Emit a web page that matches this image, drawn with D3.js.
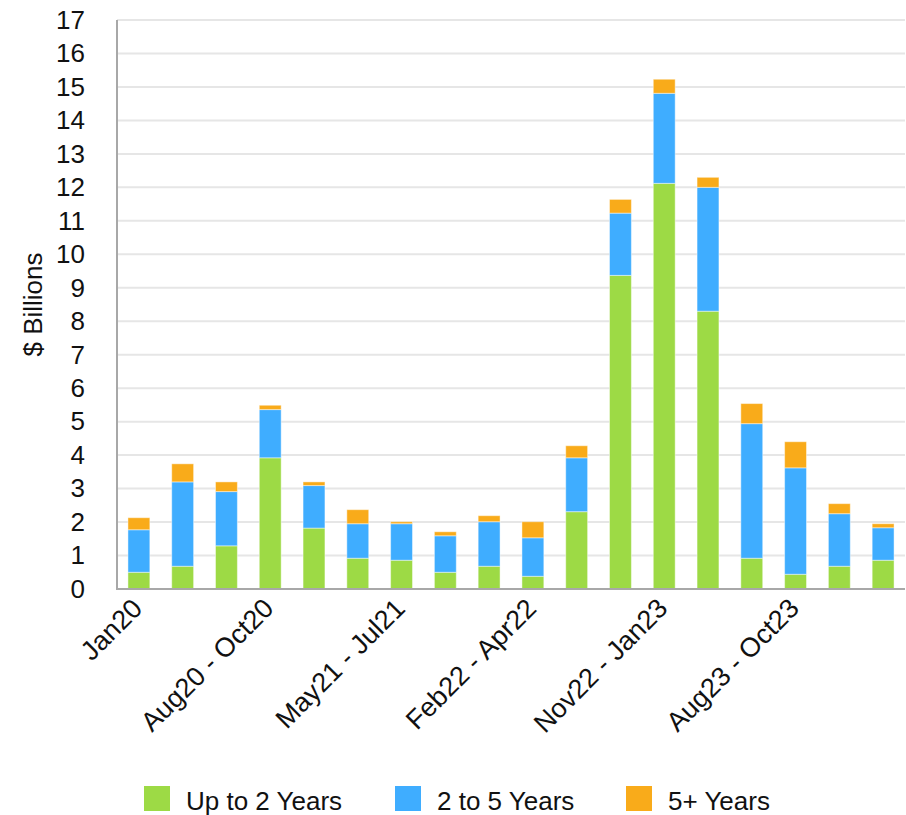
<!DOCTYPE html>
<html><head><meta charset="utf-8">
<script src="https://cdn.jsdelivr.net/npm/d3@7"></script>
<style>body{margin:0;background:#fff;} svg{display:block;font-family:"Liberation Sans",Arial,sans-serif;}</style>
</head><body>
<svg id="c" width="906" height="815"></svg>
<script>
const categories = ["Jan20","Feb20 - Apr20","May20 - Jul20","Aug20 - Oct20","Nov20 - Jan21","Feb21 - Apr21","May21 - Jul21","Aug21 - Oct21","Nov21 - Jan22","Feb22 - Apr22","May22 - Jul22","Aug22 - Oct22","Nov22 - Jan23","Feb23 - Apr23","May23 - Jul23","Aug23 - Oct23","Nov23 - Jan24","Feb24 - Apr24"];
const shownLabels = ["Jan20","Aug20 - Oct20","May21 - Jul21","Feb22 - Apr22","Nov22 - Jan23","Aug23 - Oct23"];
const upTo2 = [0.50,0.68,1.29,3.92,1.82,0.92,0.86,0.50,0.68,0.38,2.31,9.37,12.12,8.30,0.92,0.44,0.68,0.86];
const twoTo5 = [1.27,2.52,1.62,1.44,1.27,1.03,1.09,1.09,1.33,1.15,1.61,1.86,2.69,3.70,4.02,3.18,1.57,0.97];
const fivePlus = [0.36,0.54,0.29,0.13,0.11,0.42,0.06,0.12,0.18,0.48,0.36,0.41,0.42,0.30,0.60,0.78,0.30,0.12];
const seriesNames = ["Up to 2 Years","2 to 5 Years","5+ Years"];
const colors = ["#9dda45","#3fadff","#f9ab1a"];
const yTicks = d3.range(0,18);

const svg = d3.select("#c");
const L=117, R=905, T=20, B=589;
const x = d3.scaleBand().domain(categories).range([L,R]).paddingInner(0.5).paddingOuter(0.25);
const y = d3.scaleLinear().domain([0,17]).range([B,T]);

// gridlines
svg.append("g").selectAll("line").data(yTicks.filter(d=>d>0)).join("line")
  .attr("x1",L).attr("x2",R).attr("y1",d=>y(d)).attr("y2",d=>y(d))
  .attr("stroke","#e6e6e6").attr("stroke-width",2);

const table = categories.map((c,i)=>({cat:c, s0:upTo2[i], s1:twoTo5[i], s2:fivePlus[i]}));
const stack = d3.stack().keys(["s0","s1","s2"])(table);
svg.append("g").selectAll("g").data(stack).join("g").attr("fill",(d,i)=>colors[i])
  .selectAll("rect").data(d=>d).join("rect")
  .attr("x",d=>x(d.data.cat)).attr("width",x.bandwidth())
  .attr("y",d=>y(d[1])).attr("height",d=>y(d[0])-y(d[1]))
  .attr("stroke","rgba(255,255,255,0.45)").attr("stroke-width",1);

// axes lines
svg.append("line").attr("x1",L).attr("x2",L).attr("y1",T).attr("y2",B+1).attr("stroke","#a8a8a8").attr("stroke-width",2);
svg.append("line").attr("x1",L-1).attr("x2",R).attr("y1",B).attr("y2",B).attr("stroke","#a8a8a8").attr("stroke-width",2);

// y axis labels
const yAxis = d3.axisLeft(y).tickValues(yTicks).tickSize(0).tickPadding(0).tickFormat(d3.format("d"));
const gy = svg.append("g").attr("transform",`translate(85,0)`).call(yAxis);
gy.select(".domain").remove();
gy.selectAll("text").attr("font-size",26).attr("fill","#111").attr("font-family","Liberation Sans, Arial, sans-serif");

svg.append("text").attr("transform",`translate(42,${(T+B)/2}) rotate(-90)`).attr("text-anchor","middle")
  .attr("font-size",26).attr("fill","#111").text("$ Billions");

// x labels
const xAxis = d3.axisBottom(x).tickSize(0).tickFormat(d=>shownLabels.includes(d)?d:"");
const gx = svg.append("g").attr("transform",`translate(0,${B})`).call(xAxis);
gx.select(".domain").remove();
gx.selectAll("text").attr("font-size",27).attr("fill","#111").attr("font-family","Liberation Sans, Arial, sans-serif")
  .attr("text-anchor","end").attr("dy",0).attr("y",0)
  .attr("transform","translate(5,21) rotate(-45)");

// legend
const legX = [144,395,626];
const lg = svg.append("g").selectAll("g").data(seriesNames).join("g").attr("transform",(d,i)=>`translate(${legX[i]},786)`);
lg.append("rect").attr("width",26).attr("height",25).attr("fill",(d,i)=>colors[i]);
lg.append("text").attr("x",42).attr("y",24).attr("font-size",26).attr("fill","#111").text(d=>d);
</script>
</body></html>
